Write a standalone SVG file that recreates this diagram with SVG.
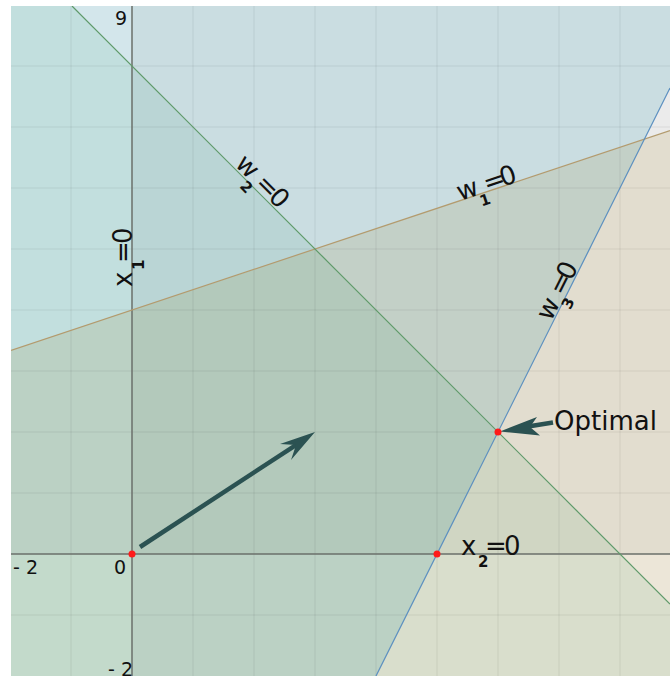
<svg xmlns="http://www.w3.org/2000/svg" width="670" height="676" viewBox="0 0 670 676">
<defs>
<clipPath id="plot"><rect x="11" y="6" width="659" height="670"/></clipPath>
<style>
.ov{mix-blend-mode:multiply;stroke:none}
.grid{stroke:#000;stroke-opacity:0.07;stroke-width:1;fill:none}
.axis{stroke:#6b706b;stroke-width:1.5;fill:none}
.t{font-family:"DejaVu Sans","Liberation Sans",sans-serif;fill:#111}
.tick{font-size:19px}
.lbl{font-size:26px}
.sub{font-size:15px;font-weight:bold}
.pt{fill:#ff1a1a}
.arr{fill:#2b5252;stroke:none}
.shaft{stroke:#2b5252;stroke-width:4.5;fill:none}
</style>
</defs>
<rect x="0" y="0" width="670" height="676" fill="#ffffff"/>
<g id="regions" clip-path="url(#plot)">
<rect x="11" y="6" width="659" height="670" fill="#ffffff"/>
<rect class="ov" x="132" y="0" width="540" height="680" fill="#f5f5f5"/>
<rect class="ov" x="0" y="0" width="672" height="554" fill="#f5f5f5"/>
<polygon class="ov" points="0,354 672,130 672,680 0,680" fill="#f6f0e1"/>
<polygon class="ov" points="0,-66 746,680 0,680" fill="#ebf7f1"/>
<polygon class="ov" points="0,0 714,0 374,680 0,680" fill="#dcf0f5"/>
</g>
<g id="grid" clip-path="url(#plot)">
<path class="grid" d="M71,0V676M193,0V676M254,0V676M315,0V676M376,0V676M437,0V676M498,0V676M559,0V676M620,0V676M0,66H670M0,127H670M0,188H670M0,249H670M0,310H670M0,371H670M0,432H670M0,493H670M0,615H670"/>
</g>
<g id="axes" clip-path="url(#plot)">
<path class="axis" d="M11,554H670M132,6V676"/>
</g>
<g id="connectors" clip-path="url(#plot)">
<line id="line-w1" x1="11" y1="350.33" x2="670" y2="130.67" stroke="#b39b6e" stroke-width="1.2"/>
<line id="line-w2" x1="72" y1="6" x2="670" y2="604" stroke="#5f9a6a" stroke-width="1.2"/>
<line id="line-w3" x1="376" y1="676" x2="670" y2="88" stroke="#5b8fc0" stroke-width="1.2"/>
</g>
<g id="ticks" class="t tick">
<text x="127" y="25" text-anchor="end">9</text>
<text x="13" y="574">- 2</text>
<text x="126" y="574" text-anchor="end">0</text>
<text x="108" y="676">- 2</text>
</g>
<g id="label-x1" transform="translate(132,287) rotate(-90)">
<text class="t lbl"><tspan x="0" y="0">x</tspan><tspan class="sub" x="17" y="12">1</tspan><tspan x="24" y="0">=</tspan><tspan x="43" y="0">0</tspan></text>
</g>
<g id="label-x2" transform="translate(461,555)">
<text class="t lbl"><tspan x="0" y="0">x</tspan><tspan class="sub" x="17" y="12">2</tspan><tspan x="24" y="0">=</tspan><tspan x="43" y="0">0</tspan></text>
</g>
<g id="label-w2" transform="translate(234,165) rotate(45)">
<text class="t lbl"><tspan x="0" y="0">w</tspan><tspan class="sub" x="19" y="12">2</tspan><tspan x="28" y="0">=</tspan><tspan x="47" y="0">0</tspan></text>
</g>
<g id="label-w1" transform="translate(460,201) rotate(-18.43)">
<text class="t lbl"><tspan x="0" y="0">w</tspan><tspan class="sub" x="19" y="12">1</tspan><tspan x="28" y="0">=</tspan><tspan x="45" y="0">0</tspan></text>
</g>
<g id="label-w3" transform="translate(551,322) rotate(-63.43)">
<text class="t lbl"><tspan x="0" y="0">w</tspan><tspan class="sub" x="19" y="12">3</tspan><tspan x="28" y="0">=</tspan><tspan x="45" y="0">0</tspan></text>
</g>
<g id="gradient-arrow">
<line class="shaft" x1="140" y1="547" x2="297" y2="444.3"/>
<path class="arr" d="M315,432 L280,444 L296,445 L291,460 Z"/>
</g>
<g id="optimal-label">
<line class="shaft" x1="553" y1="422.5" x2="528" y2="426.5"/>
<path class="arr" d="M500,431.5 L537,417 L530,427 L540,435.5 Z"/>
<text class="t" x="554" y="430" font-size="26">Optimal</text>
</g>
<g id="points">
<circle id="p-origin" class="pt" cx="132" cy="554" r="3.5"/>
<circle id="p-x2" class="pt" cx="437" cy="554" r="3.5"/>
<circle id="p-optimal" class="pt" cx="498" cy="432" r="3.5"/>
</g>
</svg>
